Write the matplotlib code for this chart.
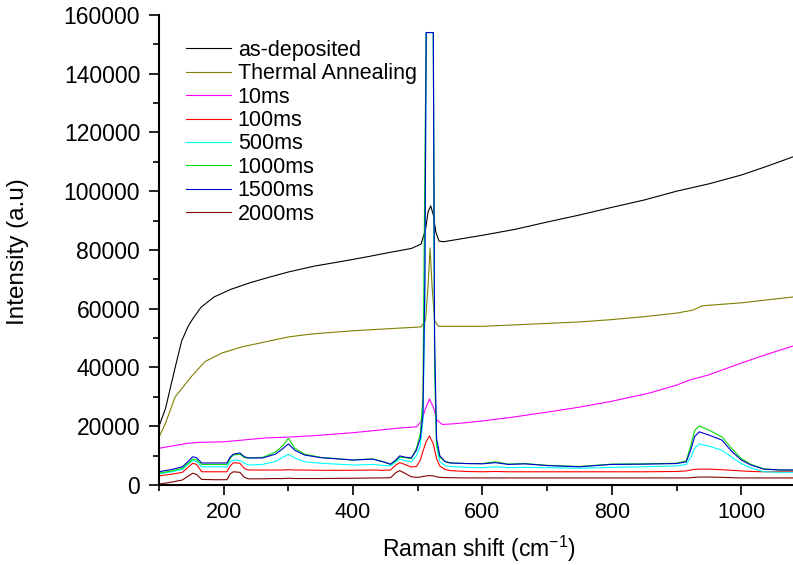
import numpy as np
import matplotlib
matplotlib.use("Agg")
import matplotlib.pyplot as plt
from matplotlib.ticker import MultipleLocator

# shared wavenumber grid for the five low-intensity spectra
shift_low = [100, 120, 136, 145, 152, 158, 166, 185, 205, 210,
             215, 225, 232, 238, 260, 280, 292, 300, 310, 325,
             350, 400, 430, 445, 458, 466, 472, 480, 490, 498,
             504, 508, 511, 513, 518, 524, 526, 529, 534, 542,
             550, 575, 600, 620, 640, 665, 700, 750, 800, 850,
             900, 915, 922, 928, 935, 950, 970, 985, 1000, 1015,
             1035, 1060, 1080]

ms1500 = [4500, 5300, 6200, 8000, 9600, 9300, 7500, 7500, 7500, 9500,
          10500, 10900, 9600, 9200, 9200, 10500, 12500, 14000, 11800, 10200,
          9300, 8500, 8800, 8000, 7100, 8500, 9900, 9500, 9200, 11900,
          16000, 24000, 70000, 154000, 154000, 154000, 50000, 16000, 10000, 8000,
          7500, 7300, 7200, 7600, 7000, 7200, 6600, 6200, 7000, 7100,
          7300, 7900, 12000, 16500, 18100, 17000, 15300, 11500, 8500, 6800,
          5400, 5100, 5100]

ms1000 = [4000, 4800, 5700, 7300, 8800, 8600, 7000, 7000, 7000, 9000,
          10200, 10500, 9300, 9200, 9400, 11200, 13500, 15900, 12500, 10500,
          9400, 8500, 8900, 8000, 7000, 8300, 9500, 9300, 9000, 12500,
          17500, 30000, 110000, 154000, 154000, 154000, 40000, 14000, 9500, 8000,
          7500, 7300, 7300, 7900, 7100, 7300, 6700, 6300, 7100, 7200,
          7400, 8200, 13500, 18500, 20100, 18700, 16400, 12500, 9000, 7000,
          5500, 5100, 5100]

ms500 = [3700, 4500, 5300, 7000, 8300, 8000, 6200, 6200, 6200, 7800,
         8500, 8300, 7500, 6800, 7000, 8000, 9500, 10500, 9200, 7900,
         7400, 6800, 7000, 6700, 6500, 7800, 8800, 8300, 7900, 10000,
         13500, 22000, 60000, 154000, 154000, 154000, 45000, 13000, 8000, 6600,
         6300, 6000, 5900, 6200, 5900, 6000, 5900, 5700, 6000, 6200,
         6500, 7000, 9500, 12500, 14000, 13200, 11900, 9500, 7300, 5800,
         4500, 4300, 4300]

ms100 = [3100, 3700, 4300, 6000, 7400, 7000, 4500, 4500, 4500, 6500,
         7600, 7400, 5600, 5100, 5100, 5100, 5100, 5200, 5100, 5100,
         5000, 5000, 5100, 5000, 5100, 6800, 7600, 7000, 6100, 6300,
         8500, 11500, 13500, 14800, 16700, 14000, 12000, 9000, 6500, 5300,
         4900, 4600, 4500, 4600, 4500, 4500, 4500, 4500, 4500, 4500,
         4600, 4800, 5100, 5300, 5400, 5400, 5200, 5000, 4800, 4600,
         4500, 4500, 4500]

ms2000 = [300, 1000, 1700, 3000, 4000, 3600, 1900, 1800, 1800, 3800,
          4500, 4300, 2600, 2100, 2100, 2200, 2200, 2300, 2200, 2200,
          2200, 2300, 2400, 2400, 2500, 4200, 4900, 4000, 2800, 2600,
          2700, 2900, 3000, 3100, 3200, 3100, 3000, 2800, 2600, 2500,
          2500, 2400, 2400, 2400, 2400, 2400, 2400, 2400, 2400, 2400,
          2400, 2400, 2500, 2600, 2700, 2700, 2600, 2500, 2400, 2400,
          2400, 2400, 2400]

shift_dep = [100, 110, 125, 135, 145, 152, 165, 185, 210, 240,
             270, 300, 340, 380, 420, 460, 490, 505, 512, 516,
             520, 524, 528, 533, 540, 600, 650, 700, 750, 800,
             850, 900, 950, 1000, 1040, 1080]
as_dep = [20000, 26000, 40000, 49000, 54000, 56500, 60500, 64000, 66500, 68800,
          70700, 72500, 74500, 76000, 77600, 79300, 80500, 82000, 87000, 93000,
          95000, 92000, 86000, 83000, 82800, 85000, 87000, 89500, 91900, 94500,
          97000, 100000, 102500, 105500, 108500, 111700]

shift_ann = [100, 110, 125, 150, 171, 197, 228, 264, 300, 336,
             400, 472, 505, 512, 516, 519, 522, 526, 532, 600,
             700, 750, 800, 850, 900, 925, 940, 1000, 1080]
annealed = [16300, 21000, 30000, 36900, 42000, 44900, 47000, 48700, 50400, 51400,
            52500, 53400, 53800, 56000, 68000, 80700, 68000, 56000, 54000, 54000,
            55000, 55500, 56300, 57300, 58500, 59500, 61000, 62000, 64000]

shift_10 = [100, 145, 160, 200, 264, 300, 340, 400, 472, 498,
            505, 512, 518, 524, 530, 538, 560, 600, 650, 700,
            750, 800, 858, 900, 920, 950, 1000, 1040, 1080]
ms10 = [12500, 14200, 14500, 14700, 16000, 16300, 16800, 17800, 19400, 19800,
        21500, 26000, 29300, 26500, 22000, 20600, 20900, 21800, 23200, 24800,
        26500, 28500, 31300, 34000, 35700, 37500, 41500, 44500, 47300]

plt.rcParams["font.family"] = "Liberation Sans"
plt.rcParams["mathtext.fontset"] = "custom"
plt.rcParams["mathtext.rm"] = "Liberation Sans"
plt.rcParams["mathtext.default"] = "regular"

fig = plt.figure(figsize=(7.93, 5.65), dpi=100)
ax = fig.add_axes([0.2005, 0.1416, 0.7995, 0.832])

lw = 0.8
ax.plot(shift_dep, as_dep, color="black", lw=lw, label="as-deposited")
ax.plot(shift_ann, annealed, color="#808000", lw=lw, label="Thermal Annealing")
ax.plot(shift_10, ms10, color="#ff00ff", lw=lw, label="10ms")
ax.plot(shift_low, ms100, color="#ff0000", lw=lw, label="100ms")
ax.plot(shift_low, ms500, color="#00ffff", lw=lw, label="500ms")
ax.plot(shift_low, ms1000, color="#00dd00", lw=lw, label="1000ms")
ax.plot(shift_low, ms1500, color="#0000cd", lw=lw, label="1500ms")
ax.plot(shift_low, ms2000, color="#800000", lw=lw, label="2000ms")

ax.set_xlim(100, 1080)
ax.set_ylim(0, 160000)
ax.spines["top"].set_visible(False)
ax.spines["right"].set_visible(False)
ax.spines["left"].set_linewidth(1.5)
ax.spines["bottom"].set_linewidth(1.5)

ax.xaxis.set_major_locator(MultipleLocator(200))
ax.xaxis.set_minor_locator(MultipleLocator(100))
ax.yaxis.set_major_locator(MultipleLocator(20000))
ax.yaxis.set_minor_locator(MultipleLocator(10000))
ax.tick_params(axis="both", which="major", direction="out", length=7, width=1.2)
ax.tick_params(axis="both", which="minor", direction="out", length=4, width=1.2)
ax.tick_params(axis="y", which="major", labelsize=16.5, pad=6.5)
ax.tick_params(axis="x", which="major", labelsize=15.5, pad=5)

ax.set_ylabel("Intensity (a.u)", fontsize=17.5)
ax.yaxis.set_label_coords(-0.205, 0.496)
ax.set_xlabel("Raman shift (cm$^{-1}$)", fontsize=16.5)
ax.xaxis.set_label_coords(0.505, -0.104)

ax.legend(loc="upper left", bbox_to_anchor=(0.2346, 0.9292), bbox_transform=fig.transFigure,
          frameon=False, fontsize=15.5, borderpad=0, borderaxespad=0,
          handlelength=2.1, handletextpad=0.3, labelspacing=0.11)

fig.savefig("out.png", dpi=100)
